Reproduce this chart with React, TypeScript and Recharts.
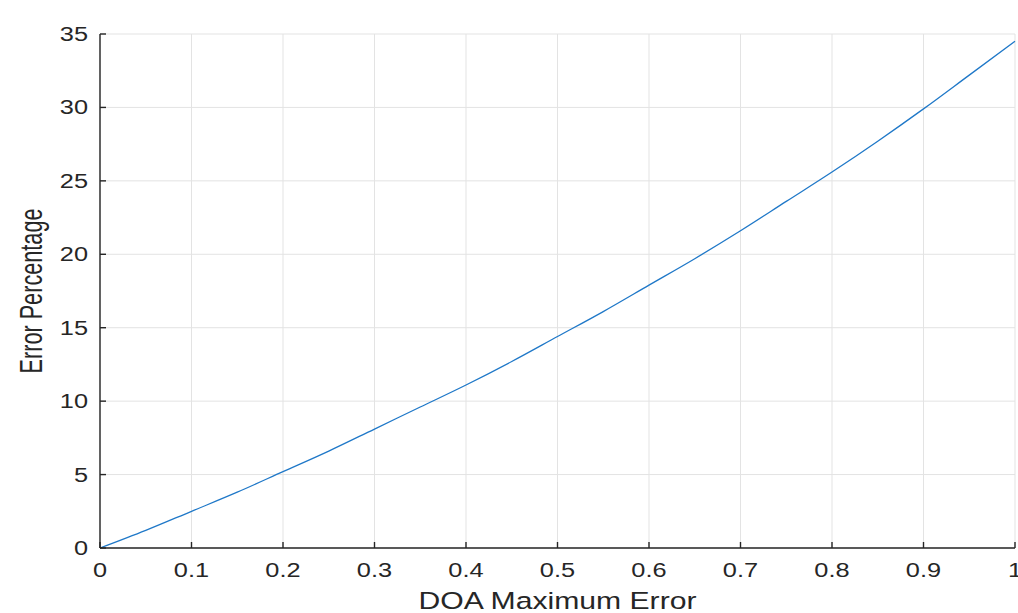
import { LineChart, Line, XAxis, YAxis, CartesianGrid, Label } from 'recharts';

const doaError = [0, 0.05, 0.1, 0.15, 0.2, 0.25, 0.3, 0.35, 0.4, 0.45, 0.5, 0.55, 0.6, 0.65, 0.7, 0.75, 0.8, 0.85, 0.9, 0.95, 1];
const errorPct = [0, 1.2, 2.5, 3.8, 5.2, 6.6, 8.1, 9.6, 11.1, 12.7, 14.4, 16.1, 17.9, 19.7, 21.6, 23.6, 25.6, 27.7, 29.9, 32.2, 34.5];
const xTicks = [0, 0.1, 0.2, 0.3, 0.4, 0.5, 0.6, 0.7, 0.8, 0.9, 1];
const yTicks = [0, 5, 10, 15, 20, 25, 30, 35];

const data = doaError.map((x, i) => ({ x, y: errorPct[i] }));

const ink = '#262626';
const font = '"Liberation Sans", Arial, sans-serif';

// the reference text looks stretched sideways, so widen it with textLength
const stretchLen = (s: string, size: number) => {
  let w = 0;
  for (const c of s) w += c === '.' ? 0.278 : 0.556;
  return w * size * 1.3;
};

const XTick = (props: any) => {
  const { x, y, payload } = props;
  const s = String(payload.value);
  return (
    <text x={x} y={y} dy="0.72em" textAnchor="middle" fill={ink} fontSize={19.5} fontFamily={font}
      textLength={stretchLen(s, 19.5)} lengthAdjust="spacingAndGlyphs">
      {s}
    </text>
  );
};

const YTick = (props: any) => {
  const { x, y, payload } = props;
  const s = String(payload.value);
  return (
    <text x={x} y={y} dy="0.36em" textAnchor="end" fill={ink} fontSize={19.5} fontFamily={font}
      textLength={stretchLen(s, 19.5)} lengthAdjust="spacingAndGlyphs">
      {s}
    </text>
  );
};

const NoTick = () => <g />;

const XTitle = (props: any) => {
  const { x, width } = props.viewBox;
  return (
    <text x={x + width / 2} y={609} textAnchor="middle" fill={ink} fontSize={24.5} fontFamily={font}
      textLength={278} lengthAdjust="spacingAndGlyphs">
      DOA Maximum Error
    </text>
  );
};

const YTitle = (props: any) => {
  const { y, height } = props.viewBox;
  const cx = 42;
  const cy = y + height / 2;
  return (
    <text x={cx} y={cy} textAnchor="middle" transform={`rotate(-90 ${cx} ${cy})`} fill={ink} fontSize={31}
      fontFamily={font} textLength={165} lengthAdjust="spacingAndGlyphs">
      Error Percentage
    </text>
  );
};

export default function App() {
  return (
    <div style={{ position: 'absolute', left: 0, top: 0, background: '#fff' }}>
      <LineChart width={1018} height={613} data={data} margin={{ top: 34, right: 3, bottom: 0, left: 0 }}>
        <CartesianGrid xAxisId="b" yAxisId="l" stroke="#e3e3e3" strokeWidth={1} />
        <XAxis xAxisId="b" dataKey="x" type="number" domain={[0, 1]} ticks={xTicks} height={65}
          tickSize={-6} tickMargin={21} tick={<XTick />} stroke={ink} strokeWidth={1.4} interval={0}>
          <Label content={<XTitle />} />
        </XAxis>
        <XAxis xAxisId="t" orientation="top" dataKey="x" type="number" domain={[0, 1]} ticks={xTicks} height={0}
          tickSize={-6} tick={NoTick} stroke={ink} strokeWidth={1.4} interval={0} />
        <YAxis yAxisId="l" type="number" domain={[0, 35]} ticks={yTicks} width={100}
          tickSize={-6} tickMargin={18} tick={<YTick />} stroke={ink} strokeWidth={1.4} interval={0}>
          <Label content={<YTitle />} />
        </YAxis>
        <YAxis yAxisId="r" orientation="right" type="number" domain={[0, 35]} ticks={yTicks} width={0}
          tickSize={-6} tick={NoTick} stroke={ink} strokeWidth={1.4} interval={0} />
        <Line xAxisId="b" yAxisId="l" type="monotone" dataKey="y" stroke="#1f78c8" strokeWidth={1.3}
          dot={false} isAnimationActive={false} />
      </LineChart>
    </div>
  );
}
